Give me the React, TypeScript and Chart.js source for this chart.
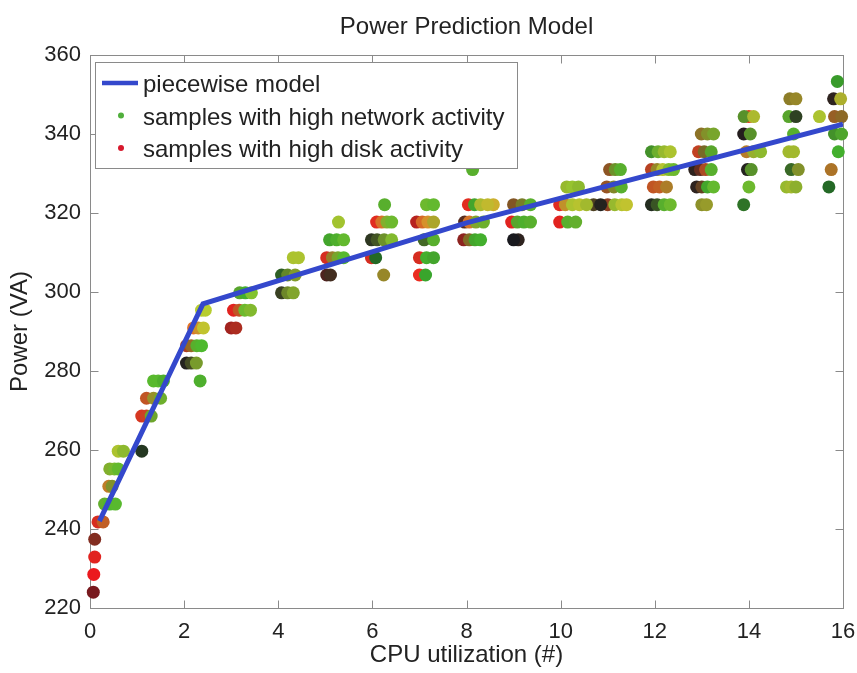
import React, { useEffect, useRef } from 'react';
import { Chart, registerables } from 'chart.js';

Chart.register(...registerables);

// ---------- text ----------
const chartTitle = 'Power Prediction Model';
const xAxisTitle = 'CPU utilization (#)';
const yAxisTitle = 'Power (VA)';
const seriesLabels = [
  'piecewise model',
  'samples with high network activity',
  'samples with high disk activity',
];

// ---------- axes ----------
const xTicks = [0, 2, 4, 6, 8, 10, 12, 14, 16];
const yTicks = [220, 240, 260, 280, 300, 320, 340, 360];

// ---------- piecewise model ----------
const modelCpu = [0.2, 2.4, 8, 16];
const modelPower = [242, 297, 317.5, 342.5];

// ---------- samples: [cpu, power (VA), disk activity 0-1, network activity 0-1] ----------
type Sample = [number, number, number, number];

const samplesSteep: Sample[] = [
  [0.07, 224.0, 0.45, 0], [0.08, 228.5, 1, 0], [0.1, 232.9, 0.95, 0.05], [0.1, 237.4, 0.5, 0.1],
  [0.17, 241.8, 0.9, 0.1], [0.28, 241.8, 0.8, 0.35],
  [0.31, 246.3, 0.35, 0.75], [0.42, 246.3, 0.25, 0.8], [0.54, 246.3, 0.3, 0.8],
  [0.4, 250.8, 0.8, 0.5], [0.47, 250.8, 0.5, 0.6],
  [0.42, 255.2, 0.5, 0.75], [0.52, 255.2, 0.45, 0.8], [0.6, 255.2, 0.35, 0.8],
  [0.6, 259.7, 0.7, 0.85], [0.71, 259.7, 0.55, 0.8], [1.1, 259.7, 0.05, 0.15],
  [1.1, 268.6, 0.9, 0.15], [1.2, 268.6, 0.85, 0.2], [1.3, 268.6, 0.4, 0.7],
  [1.2, 273.1, 0.8, 0.3], [1.35, 273.1, 0.6, 0.6], [1.5, 273.1, 0.4, 0.75],
  [1.35, 277.5, 0.3, 0.8], [1.45, 277.5, 0.3, 0.8], [1.56, 277.5, 0.25, 0.75], [2.34, 277.5, 0.25, 0.75],
  [2.05, 282.0, 0.05, 0.05], [2.15, 282.0, 0.2, 0.25], [2.26, 282.0, 0.45, 0.65],
  [2.05, 286.4, 0.7, 0.2], [2.15, 286.4, 0.6, 0.4], [2.27, 286.4, 0.3, 0.75], [2.37, 286.4, 0.25, 0.8],
  [2.2, 290.9, 0.95, 0.45], [2.3, 290.9, 0.85, 0.6], [2.41, 290.9, 0.8, 0.85], [3.0, 290.9, 0.65, 0.05], [3.1, 290.9, 0.7, 0.1],
  [2.37, 295.4, 0.75, 0.9], [2.45, 295.4, 0.75, 0.9], [3.05, 295.4, 0.95, 0.05], [3.17, 295.4, 0.8, 0.3],
  [3.29, 295.4, 0.4, 0.8], [3.41, 295.4, 0.5, 0.8],
  [3.18, 299.8, 0.3, 0.7], [3.3, 299.8, 0.2, 0.75], [3.43, 299.8, 0.5, 0.85],
];

const samplesMid: Sample[] = [
  [4.07, 299.8, 0.15, 0.2], [4.2, 299.8, 0.4, 0.55], [4.32, 299.8, 0.5, 0.7],
  [4.07, 304.3, 0.1, 0.35], [4.2, 304.3, 0.35, 0.55], [4.36, 304.3, 0.5, 0.65], [5.03, 304.3, 0.25, 0.05],
  [5.11, 304.3, 0.2, 0.1], [6.24, 304.3, 0.6, 0.55], [7.0, 304.3, 1, 0.1], [7.13, 304.3, 0.15, 0.7],
  [4.32, 308.7, 0.7, 0.85], [4.43, 308.7, 0.7, 0.85], [5.03, 308.7, 0.9, 0.1], [5.15, 308.7, 0.6, 0.5],
  [5.27, 308.7, 0.45, 0.7], [5.39, 308.7, 0.3, 0.8], [5.98, 308.7, 0.9, 0.1], [6.07, 308.7, 0.05, 0.4],
  [7.0, 308.7, 0.9, 0.1], [7.15, 308.7, 0.2, 0.75], [7.3, 308.7, 0.2, 0.7],
  [5.09, 313.2, 0.2, 0.7], [5.24, 313.2, 0.25, 0.75], [5.39, 313.2, 0.35, 0.8], [5.98, 313.2, 0.1, 0.15],
  [6.1, 313.2, 0.2, 0.3], [6.25, 313.2, 0.4, 0.6], [6.41, 313.2, 0.5, 0.8], [7.1, 313.2, 0.2, 0.4],
  [7.3, 313.2, 0.3, 0.75], [7.94, 313.2, 0.55, 0.05], [8.06, 313.2, 0.5, 0.4], [8.18, 313.2, 0.2, 0.7],
  [8.3, 313.2, 0.2, 0.75], [9.0, 313.2, 0, 0], [9.1, 313.2, 0.1, 0.05],
  [5.28, 317.7, 0.65, 0.85], [6.09, 317.7, 0.95, 0.1], [6.2, 317.7, 0.9, 0.45], [6.31, 317.7, 0.5, 0.75],
  [6.41, 317.7, 0.4, 0.8], [6.94, 317.7, 0.75, 0.05], [7.06, 317.7, 0.9, 0.4], [7.18, 317.7, 0.9, 0.6],
  [7.3, 317.7, 0.7, 0.7], [7.96, 317.7, 0.3, 0.1], [8.06, 317.7, 0.9, 0.45], [8.2, 317.7, 0.5, 0.7],
  [8.36, 317.7, 0.4, 0.75], [8.96, 317.7, 0.95, 0.05], [9.08, 317.7, 0.3, 0.7], [9.22, 317.7, 0.25, 0.75],
  [9.36, 317.7, 0.3, 0.75],
  [6.26, 322.1, 0.3, 0.75], [7.15, 322.1, 0.4, 0.8], [7.3, 322.1, 0.35, 0.8], [8.04, 322.1, 0.95, 0.1],
  [8.17, 322.1, 0.2, 0.7], [8.3, 322.1, 0.7, 0.8], [8.45, 322.1, 0.8, 0.8], [8.57, 322.1, 0.85, 0.75],
  [9.0, 322.1, 0.5, 0.3], [9.18, 322.1, 0.45, 0.5], [9.36, 322.1, 0.3, 0.75],
  [8.13, 331.0, 0.3, 0.75],
];

const samplesHigh: Sample[] = [
  [9.98, 317.7, 0.95, 0.05], [10.15, 317.7, 0.3, 0.75], [10.32, 317.7, 0.35, 0.75],
  [9.98, 322.1, 0.95, 0.1], [10.1, 322.1, 0.8, 0.6], [10.25, 322.1, 0.7, 0.85], [10.4, 322.1, 0.75, 0.85],
  [10.55, 322.1, 0.65, 0.8], [10.7, 322.1, 0.25, 0.2], [10.85, 322.1, 0.05, 0.05], [11.0, 322.1, 0.55, 0.2],
  [11.15, 322.1, 0.6, 0.8], [11.3, 322.1, 0.75, 0.85], [11.4, 322.1, 0.8, 0.85],
  [11.93, 322.1, 0.05, 0.1], [12.05, 322.1, 0.15, 0.3], [12.2, 322.1, 0.3, 0.75], [12.33, 322.1, 0.4, 0.8],
  [13.0, 322.1, 0.55, 0.6], [13.1, 322.1, 0.6, 0.65], [13.89, 322.1, 0.1, 0.45],
  [10.13, 326.6, 0.6, 0.8], [10.25, 326.6, 0.6, 0.85], [10.38, 326.6, 0.55, 0.8], [10.98, 326.6, 0.6, 0.3],
  [11.13, 326.6, 0.5, 0.55], [11.29, 326.6, 0.3, 0.75], [11.97, 326.6, 0.8, 0.3], [12.1, 326.6, 0.8, 0.35],
  [12.25, 326.6, 0.7, 0.5], [12.89, 326.6, 0.1, 0.05], [13.0, 326.6, 0.35, 0.2], [13.12, 326.6, 0.2, 0.7],
  [13.25, 326.6, 0.35, 0.8], [14.0, 326.6, 0.4, 0.8], [14.8, 326.6, 0.6, 0.8], [14.9, 326.6, 0.65, 0.8],
  [15.0, 326.6, 0.55, 0.75], [15.7, 326.6, 0.05, 0.4],
  [11.04, 331.0, 0.55, 0.3], [11.16, 331.0, 0.4, 0.6], [11.27, 331.0, 0.3, 0.75], [11.93, 331.0, 0.75, 0.2],
  [12.05, 331.0, 0.6, 0.55], [12.17, 331.0, 0.75, 0.85], [12.3, 331.0, 0.5, 0.8], [12.4, 331.0, 0.4, 0.8],
  [12.85, 331.0, 0.1, 0.05], [12.97, 331.0, 0.35, 0.1], [13.08, 331.0, 0.7, 0.25], [13.2, 331.0, 0.3, 0.75],
  [13.97, 331.0, 0.05, 0.05], [14.05, 331.0, 0.3, 0.6], [14.9, 331.0, 0.15, 0.4], [15.05, 331.0, 0.5, 0.6],
  [15.75, 331.0, 0.7, 0.45],
  [11.93, 335.5, 0.2, 0.6], [12.07, 335.5, 0.4, 0.75], [12.2, 335.5, 0.6, 0.8], [12.33, 335.5, 0.7, 0.85],
  [12.93, 335.5, 0.8, 0.2], [13.05, 335.5, 0.45, 0.4], [13.2, 335.5, 0.3, 0.7], [13.95, 335.5, 0.75, 0.5],
  [14.1, 335.5, 0.6, 0.75], [14.25, 335.5, 0.55, 0.8], [14.85, 335.5, 0.65, 0.8], [14.95, 335.5, 0.65, 0.8],
  [15.9, 335.5, 0.2, 0.75],
  [12.99, 340.0, 0.55, 0.45], [13.12, 340.0, 0.5, 0.6], [13.25, 340.0, 0.45, 0.7], [13.89, 340.0, 0.05, 0.02],
  [14.03, 340.0, 0.3, 0.6], [14.95, 340.0, 0.3, 0.75], [15.82, 340.0, 0.2, 0.6], [15.97, 340.0, 0.25, 0.7],
  [13.9, 344.4, 0.3, 0.6], [14.0, 344.4, 0.95, 0.2], [14.1, 344.4, 0.7, 0.8], [14.85, 344.4, 0.3, 0.7],
  [15.0, 344.4, 0.1, 0.2], [15.5, 344.4, 0.7, 0.85], [15.82, 344.4, 0.6, 0.35], [15.97, 344.4, 0.55, 0.4],
  [14.87, 348.9, 0.55, 0.5], [15.0, 348.9, 0.6, 0.55], [15.8, 348.9, 0.1, 0.05], [15.95, 348.9, 0.7, 0.75],
  [15.88, 353.3, 0.15, 0.65],
];

// ---------- styles ----------
const TEXT_COLOR = '#222222';
const AXIS_COLOR = '#8a8a8a';
const LINE_COLOR = 'rgb(52,72,204)';
const NET_MARK = 'rgb(80,175,60)';
const DISK_MARK = 'rgb(215,25,45)';
const TICK_LEN = 8;

function hasFont(name: string): boolean {
  const c = document.createElement('canvas').getContext('2d');
  if (!c) return false;
  const s = 'abcdefghijklmnopqrstuvwxyz0123456789';
  c.font = '40px monospace';
  const base = c.measureText(s).width;
  c.font = `40px "${name}", monospace`;
  return Math.abs(c.measureText(s).width - base) > 1;
}

const activityColor = (s: Sample) =>
  `rgb(${Math.round(25 + 210 * s[2])},${Math.round(25 + 200 * s[3])},${Math.round(30 + 20 * s[3])})`;

const axesBoxPlugin = {
  id: 'axesBox',
  beforeDatasetsDraw(chart: any) {
    const { ctx, chartArea: a, scales } = chart;
    const L = Math.round(a.left) + 0.5;
    const R = Math.round(a.right) + 0.5;
    const T = Math.round(a.top) + 0.5;
    const B = Math.round(a.bottom) + 0.5;
    ctx.save();
    ctx.strokeStyle = AXIS_COLOR;
    ctx.lineWidth = 1;
    ctx.strokeRect(L, T, R - L, B - T);
    ctx.beginPath();
    for (const v of xTicks) {
      const px = Math.round(scales.x.getPixelForValue(v)) + 0.5;
      ctx.moveTo(px, B); ctx.lineTo(px, B - TICK_LEN);
      ctx.moveTo(px, T); ctx.lineTo(px, T + TICK_LEN);
    }
    for (const v of yTicks) {
      const py = Math.round(scales.y.getPixelForValue(v)) + 0.5;
      ctx.moveTo(L, py); ctx.lineTo(L + TICK_LEN, py);
      ctx.moveTo(R, py); ctx.lineTo(R - TICK_LEN, py);
    }
    ctx.stroke();
    ctx.restore();
  },
};

const boxLegendPlugin = {
  id: 'boxLegend',
  afterDatasetsDraw(chart: any, _args: any, opts: any) {
    const { ctx, chartArea: a } = chart;
    const ds = chart.data.datasets;
    ctx.save();
    ctx.font = `${opts.size}px ${opts.family}`;
    const left = Math.round(a.left) + 5;
    const top = Math.round(a.top) + 7;
    const textX = left + 48;
    const widest = Math.max(...ds.map((d: any) => ctx.measureText(d.label).width));
    const boxW = Math.round(textX - left + widest + 13);
    const boxH = 106;
    ctx.fillStyle = '#ffffff';
    ctx.fillRect(left, top, boxW, boxH);
    ctx.strokeStyle = AXIS_COLOR;
    ctx.lineWidth = 1;
    ctx.strokeRect(left + 0.5, top + 0.5, boxW, boxH);
    ds.forEach((d: any, i: number) => {
      const base = top + 30 + i * 32.5;
      const my = base - 9;
      if (d.legendKind === 'line') {
        ctx.strokeStyle = d.borderColor;
        ctx.lineWidth = 4.5;
        ctx.beginPath();
        ctx.moveTo(left + 7, my);
        ctx.lineTo(left + 43, my);
        ctx.stroke();
      } else {
        ctx.fillStyle = d.legendColor;
        ctx.beginPath();
        ctx.arc(left + 26, my, 3, 0, Math.PI * 2);
        ctx.fill();
      }
      ctx.fillStyle = TEXT_COLOR;
      ctx.textBaseline = 'alphabetic';
      ctx.textAlign = 'left';
      ctx.fillText(d.label, textX, base);
    });
    ctx.restore();
  },
};

export default function App() {
  const ref = useRef<HTMLCanvasElement>(null);

  useEffect(() => {
    const canvas = ref.current;
    if (!canvas) return;
    const narrow = hasFont('Liberation Sans Narrow');
    const family = narrow ? '"Liberation Sans Narrow", "Liberation Sans", Arial, sans-serif' : '"Liberation Sans", Arial, sans-serif';
    const k = narrow ? 1.2 : 1;
    const labelSize = Math.round(24 * k);
    const tickSize = Math.round(22 * k);

    const allSamples = [...samplesSteep, ...samplesMid, ...samplesHigh];
    const netRows = allSamples.filter((s) => s[3] >= s[2]);
    const diskRows = allSamples.filter((s) => s[2] > s[3]);

    const chart = new Chart(canvas, {
      type: 'scatter',
      data: {
        datasets: [
          {
            type: 'line',
            label: seriesLabels[0],
            data: modelCpu.map((x, i) => ({ x, y: modelPower[i] })),
            borderColor: LINE_COLOR,
            borderWidth: 5,
            pointRadius: 0,
            showLine: true,
            tension: 0,
            fill: false,
            order: 0,
            legendKind: 'line',
          } as any,
          {
            type: 'scatter',
            label: seriesLabels[1],
            data: netRows.map((s) => ({ x: s[0], y: s[1] })),
            backgroundColor: netRows.map(activityColor),
            borderColor: netRows.map(activityColor),
            pointRadius: 6.5,
            pointBorderWidth: 0,
            borderWidth: 0,
            clip: false,
            order: 1,
            legendKind: 'point',
            legendColor: NET_MARK,
          } as any,
          {
            type: 'scatter',
            label: seriesLabels[2],
            data: diskRows.map((s) => ({ x: s[0], y: s[1] })),
            backgroundColor: diskRows.map(activityColor),
            borderColor: diskRows.map(activityColor),
            pointRadius: 6.5,
            pointBorderWidth: 0,
            borderWidth: 0,
            clip: false,
            order: 2,
            legendKind: 'point',
            legendColor: DISK_MARK,
          } as any,
        ],
      },
      options: {
        animation: false,
        responsive: false,
        devicePixelRatio: 1,
        layout: { padding: { left: 0, right: 14, top: 0, bottom: 0 } },
        plugins: {
          legend: { display: false },
          tooltip: { enabled: false },
          title: {
            display: true,
            fullSize: false,
            text: chartTitle,
            color: TEXT_COLOR,
            font: { family, size: labelSize, weight: 'normal', lineHeight: 1.2 },
            padding: { top: 27 - labelSize * 0.6, bottom: 55 - (27 - labelSize * 0.6) - labelSize * 1.2 },
          },
          boxLegend: { family, size: labelSize },
        } as any,
        scales: {
          x: {
            type: 'linear',
            min: 0,
            max: 16,
            afterBuildTicks: (s: any) => { s.ticks = xTicks.map((value) => ({ value })); },
            afterFit: (s: any) => { s.height = 65; s.paddingLeft = 0; s.paddingRight = 0; },
            ticks: { color: TEXT_COLOR, font: { family, size: tickSize }, padding: 11, maxRotation: 0, autoSkip: false },
            grid: { display: false, drawTicks: false },
            border: { display: false },
            title: {
              display: true,
              text: xAxisTitle,
              color: TEXT_COLOR,
              font: { family, size: labelSize },
              padding: { top: 0, bottom: 3 },
            },
          },
          y: {
            type: 'linear',
            min: 220,
            max: 360,
            afterBuildTicks: (s: any) => { s.ticks = yTicks.map((value) => ({ value })); },
            afterFit: (s: any) => { s.width = 90; s.paddingTop = 0; s.paddingBottom = 0; },
            ticks: { color: TEXT_COLOR, font: { family, size: tickSize }, padding: 9, autoSkip: false },
            grid: { display: false, drawTicks: false },
            border: { display: false },
            title: {
              display: true,
              text: yAxisTitle,
              color: TEXT_COLOR,
              font: { family, size: labelSize },
              padding: { top: 6, bottom: 0 },
            },
          },
        },
      },
      plugins: [axesBoxPlugin, boxLegendPlugin],
    });
    return () => chart.destroy();
  }, []);

  return (
    <div style={{ position: 'fixed', left: 0, top: 0, width: 857, height: 673, background: '#ffffff' }}>
      <canvas ref={ref} width={857} height={673} style={{ display: 'block', width: 857, height: 673 }} />
    </div>
  );
}
